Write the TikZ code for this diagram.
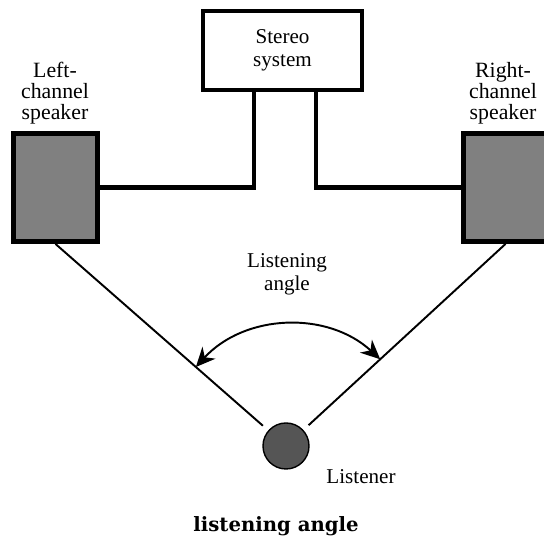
\documentclass[tikz,border=0pt]{standalone}
\usepackage{fontspec}
\setmainfont{Liberation Serif}
\newfontfamily\titlefont{DejaVu Serif}
\usetikzlibrary{arrows.meta, positioning, calc}

\begin{document}
\begin{tikzpicture}[
    every node/.style={font=\fontsize{12}{13.1}\selectfont},
    box/.style={draw, line width=2.8pt, inner sep=0pt},
    wire/.style={line width=2.8pt},
    sightline/.style={line width=1.1pt, shorten >=0.14cm},
]

\definecolor{spkgray}{HTML}{808080}   % speaker cabinets
\definecolor{headgray}{HTML}{555555}  % the listener

\def\spkw{1.68}
\def\spkh{2.16}

\useasboundingbox (0,0) rectangle (10.88,10.72);

% ---------------------------------------------------------------- stereo
\node[box, minimum width=3.18cm, minimum height=1.58cm, align=center]
    (stereo) at (5.65, 9.71) {Stereo\\system};

% ---------------------------------------------------------------- speakers
% the right one runs off the edge of the page, as in the original
\foreach \name/\x/\lx/\lbl in {%
    lspk/1.11/1.10/{Left-\\channel\\speaker},
    rspk/10.11/10.06/{Right-\\channel\\speaker}} {
  \node[box, fill=spkgray, minimum width=\spkw cm, minimum height=\spkh cm]
      (\name) at (\x, 6.97) {};
  \node[font=\fontsize{12.4}{12}\selectfont, align=center]
      (\name lbl) at (\lx, 8.86) {\lbl};
}

\draw[wire] ($(stereo.south)+(-0.57,0)$) |- (lspk.east);
\draw[wire] ($(stereo.south)+(0.67,0)$) |- (rspk.west);

% ---------------------------------------------------------------- listener
\node[circle, draw, fill=headgray, line width=0.8pt, minimum size=0.92cm,
    inner sep=0pt] (listener) at (5.72, 1.80) {};
\node (lsnlbl) at (7.22, 1.18) {Listener};

\draw[sightline] (lspk.south) -- coordinate[pos=0.66] (la) (listener);
\draw[sightline] (rspk.south) -- coordinate[pos=0.62] (ra) (listener);

\draw[{Stealth[length=11pt, width=10pt, inset=3.5pt]}-{Stealth[length=11pt, width=10pt, inset=3.5pt]},
    line width=1.1pt] (la) to[bend left=45] (ra);
\node[align=center] (anglelbl) at (5.74, 5.24) {Listening\\angle};

% ---------------------------------------------------------------- caption
\node[font=\titlefont\bfseries\fontsize{11.2}{13}\selectfont]
    (caption) at (5.52, 0.19) {listening angle};

\end{tikzpicture}
\end{document}
